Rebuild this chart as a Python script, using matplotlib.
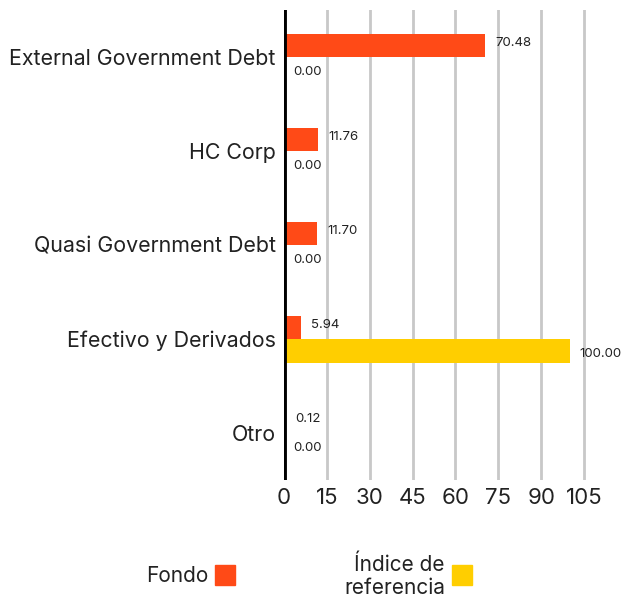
import matplotlib.pyplot as plt
from matplotlib.patches import Rectangle
import numpy as np

plt.rcParams['font.family'] = ['Inter', 'DejaVu Sans']

categories = ["External Government Debt", "HC Corp", "Quasi Government Debt",
              "Efectivo y Derivados", "Otro"]
fondo = [70.48, 11.76, 11.70, 5.94, 0.12]
indice = [0.00, 0.00, 0.00, 100.00, 0.00]
xticks = [0, 15, 30, 45, 60, 75, 90, 105]

c_fondo = "#FF4A17"
c_indice = "#FFCE00"

fig = plt.figure(figsize=(6.27, 6.01), dpi=100)
ax = fig.add_axes([284 / 627, 1 - 480 / 601, 302 / 627, 470 / 601])

y = np.arange(len(categories))
h = 0.25
ax.barh(y - h / 2, fondo, height=h, color=c_fondo, zorder=3)
ax.barh(y + h / 2, indice, height=h, color=c_indice, zorder=3)

# etiquetas de valores
for i in range(len(categories)):
    ax.annotate(f"{fondo[i]:.2f}", (fondo[i], y[i] - h / 2), xytext=(7.5, 1.5),
                textcoords="offset points", va="center", ha="left", fontsize=9.5,
                color="#222222")
    ax.annotate(f"{indice[i]:.2f}", (indice[i], y[i] + h / 2), xytext=(7, -2.5),
                textcoords="offset points", va="center", ha="left", fontsize=9.5,
                color="#222222")

ax.set_ylim(len(categories) - 0.5, -0.5)
ax.set_xlim(0, 105.7)
ax.set_yticks(y)
ax.set_yticklabels(categories, fontsize=15.4, color="#222222")
ax.set_xticks(xticks)
ax.set_xticklabels([str(t) for t in xticks], fontsize=16, color="#222222")
ax.tick_params(length=0, pad=6)
ax.tick_params(axis="y", pad=6)

for s in ax.spines.values():
    s.set_visible(False)
ax.grid(axis="x", color="#c8c8c8", linewidth=2, zorder=0)
ax.axvline(0, color="black", linewidth=3.5, zorder=4)

# leyenda
fig.text(208 / 627, 1 - 576 / 601, "Fondo", ha="right", va="center",
         fontsize=15, color="#222222")
fig.patches.append(Rectangle((215 / 627, 1 - 585 / 601), 20 / 627, 20 / 601,
                             transform=fig.transFigure, color=c_fondo))
fig.text(445 / 627, 1 - 576 / 601, "Índice de\nreferencia", ha="right", va="center",
         fontsize=15, color="#222222", multialignment="right", linespacing=1.2)
fig.patches.append(Rectangle((452 / 627, 1 - 585 / 601), 20 / 627, 20 / 601,
                             transform=fig.transFigure, color=c_indice))

fig.savefig("out.png", dpi=100)
